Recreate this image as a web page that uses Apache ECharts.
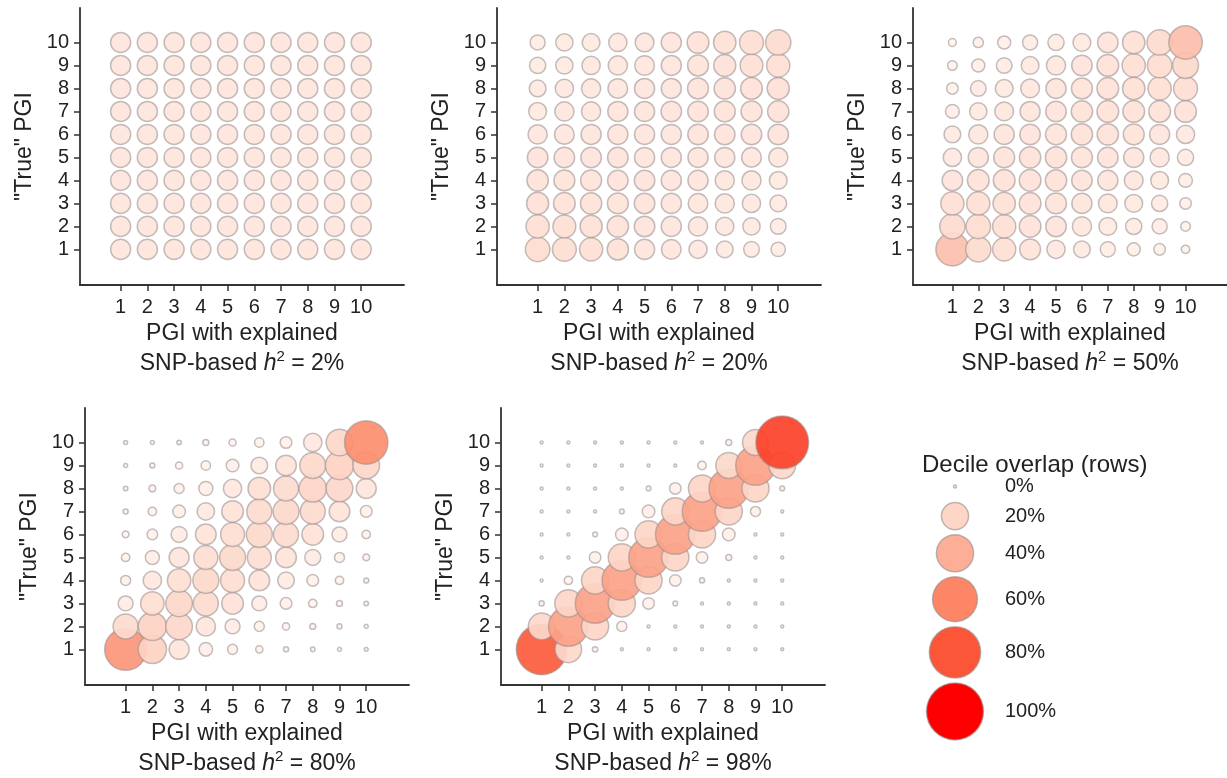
<!DOCTYPE html>
<html><head><meta charset="utf-8">
<script src="https://cdn.jsdelivr.net/npm/echarts@6.0.0/dist/echarts.min.js"></script>
<style>html,body{margin:0;padding:0;background:#fff}#c{width:1227px;height:778px}</style>
</head><body><div id="c"></div>
<script>
// ---------- data ----------
const deciles = [1, 2, 3, 4, 5, 6, 7, 8, 9, 10];
const tickLabels = ['1', '2', '3', '4', '5', '6', '7', '8', '9', '10'];
const panelH2 = ['2%', '20%', '50%', '80%', '98%'];

// overlap (% of row), rows = "True" PGI decile 1..10, columns = PGI decile 1..10
const overlapH2_02 = [
  [10, 10, 10, 10, 10, 10, 10, 10, 10, 10],
  [10, 10, 10, 10, 10, 10, 10, 10, 10, 10],
  [10, 10, 10, 10, 10, 10, 10, 10, 10, 10],
  [10, 10, 10, 10, 10, 10, 10, 10, 10, 10],
  [10, 10, 10, 10, 10, 10, 10, 10, 10, 10],
  [10, 10, 10, 10, 10, 10, 10, 10, 10, 10],
  [10, 10, 10, 10, 10, 10, 10, 10, 10, 10],
  [10, 10, 10, 10, 10, 10, 10, 10, 10, 10],
  [10, 10, 10, 10, 10, 10, 10, 10, 10, 10],
  [10, 10, 10, 10, 10, 10, 10, 10, 10, 10]
];
const overlapH2_20 = [
  [16, 15, 14, 11.5, 10, 9.5, 8, 6.5, 5.5, 4.5],
  [14, 13.5, 12.5, 11.5, 10.5, 10, 9, 8, 7, 5.5],
  [12.5, 12, 11.5, 11, 10.5, 10, 9.5, 9, 8, 6.5],
  [11.5, 11, 11, 10.5, 10.5, 10, 10, 9, 9, 7.5],
  [10.5, 10.5, 10.5, 10.5, 10, 10, 10, 10, 9.5, 9],
  [9, 9.5, 10, 10, 10, 10, 10.5, 10.5, 10.5, 10.5],
  [7.5, 9, 9, 10, 10, 10.5, 10.5, 11, 11, 11.5],
  [6.5, 8, 9, 9.5, 10, 10, 11, 11.5, 12, 12.5],
  [6, 7, 8, 9, 9.5, 10, 11, 12.5, 13.5, 14],
  [5, 7, 7.5, 8, 8.5, 10, 12, 13, 15, 17]
];
const overlapH2_50 = [
  [31, 17, 14, 11, 8, 6.5, 5, 3.5, 2.5, 1],
  [17, 16, 14, 12, 10.5, 9, 7.5, 6, 5, 1.5],
  [14, 14, 13, 12, 11, 10, 8.5, 7.5, 6, 2.5],
  [10.5, 12, 12, 12, 11.5, 10.5, 10, 8.5, 7.5, 4],
  [8, 10, 11, 11.5, 11.5, 11, 10.5, 10, 9, 6],
  [6.5, 9, 10, 10.5, 11, 11.5, 11.5, 11, 10, 8],
  [4, 7, 8.5, 10, 10.5, 11.5, 12, 12, 12, 12],
  [2.5, 5.5, 7.5, 8.5, 10, 11, 12, 13, 14, 15],
  [1.5, 3.5, 5.5, 7.5, 9, 10.5, 12, 14, 16, 18],
  [0.8, 1.8, 3.5, 5, 6, 7.5, 10.5, 13, 17, 32]
];
const overlapH2_80 = [
  [52, 22, 9.9, 3.8, 1.7, 0.6, 0.15, 0.08, 0.04, 0.03],
  [16.6, 22, 19.2, 9.2, 4.9, 1.7, 0.6, 0.3, 0.14, 0.04],
  [4.9, 14.2, 19.2, 16.6, 11.9, 4.9, 2.6, 1.0, 0.3, 0.08],
  [1.7, 8.1, 14.2, 18.1, 15.1, 10.7, 6.4, 2.6, 1.0, 0.14],
  [1.0, 4.2, 9.9, 15.1, 18.1, 15.1, 10.7, 5.8, 1.7, 0.5],
  [0.5, 2.0, 5.8, 10.7, 15.1, 18.1, 16.6, 11.9, 4.9, 1.0],
  [0.14, 1.0, 3.2, 7.1, 11.9, 16.6, 18.1, 16.6, 10.7, 2.6],
  [0.08, 0.5, 1.7, 4.2, 8.1, 13.2, 16.6, 20.3, 19.2, 9.9],
  [0.04, 0.14, 0.6, 1.4, 3.2, 6.4, 10.7, 18.1, 22, 19.2],
  [0.03, 0.04, 0.08, 0.3, 0.6, 1.4, 2.6, 8.1, 19.2, 56]
];
const overlapH2_98 = [
  [78, 19, 0.2, 0, 0, 0, 0, 0, 0, 0],
  [19, 46, 20, 1.7, 0, 0, 0, 0, 0, 0],
  [0.15, 20, 46, 20, 2.5, 0.1, 0, 0, 0, 0],
  [0, 1, 20, 46, 20, 2.5, 0.15, 0, 0, 0],
  [0, 0, 2.5, 20, 46, 20, 2.5, 0.3, 0, 0],
  [0, 0, 0.1, 3.2, 20, 46, 20, 3.2, 0, 0],
  [0, 0, 0, 0.1, 3.2, 20, 46, 20, 1.7, 0],
  [0, 0, 0, 0, 0.1, 2.5, 20, 46, 20, 0.1],
  [0, 0, 0, 0, 0, 0, 1, 18, 46, 19],
  [0, 0, 0, 0, 0, 0, 0, 0.3, 18, 85]
];

const legendValues = [0, 20, 40, 60, 80, 100];
const legendLabels = ['0%', '20%', '40%', '60%', '80%', '100%'];
const legendTitle = 'Decile overlap (rows)';

// ---------- build ----------
const FONT = "'Liberation Sans', Arial, Helvetica, sans-serif";
const matrices = [overlapH2_02, overlapH2_20, overlapH2_50, overlapH2_80, overlapH2_98];
const grids = [
  {left: 80, top: 8},
  {left: 497, top: 8},
  {left: 913, top: 8},
  {left: 85, top: 408},
  {left: 501, top: 408}
];
const GW = 324, GH = 277;
function radius(p) { return 1.5 + 27 * Math.sqrt(p / 100); }

const option = {
  animation: false,
  backgroundColor: '#ffffff',
  textStyle: {fontFamily: FONT},
  title: [{
    text: legendTitle, left: 917, top: 448,
    textStyle: {fontSize: 24, fontWeight: 'normal', color: '#222', fontFamily: FONT}
  }],
  grid: [],
  xAxis: [],
  yAxis: [],
  series: [],
  visualMap: {
    type: 'continuous', show: false, min: 0, max: 100, dimension: 2,
    seriesIndex: [0, 1, 2, 3, 4, 5],
    inRange: {color: ['#fff4ef', '#fdd6c8', '#fcae97', '#fc8665', '#fb5637', '#ff0000']}
  }
};

const axisLineStyle = {color: '#333', width: 1.8};
matrices.forEach((m, i) => {
  option.grid.push({left: grids[i].left, top: grids[i].top, width: GW, height: GH});
  option.xAxis.push({
    gridIndex: i, type: 'value', min: -0.52, max: 11.6,
    axisLine: {show: true, onZero: false, lineStyle: axisLineStyle},
    axisTick: {show: true, customValues: deciles, length: 6, lineStyle: {color: '#333', width: 1.5}},
    axisLabel: {customValues: deciles, formatter: v => tickLabels[v - 1], fontSize: 20, color: '#222', margin: 12, fontFamily: FONT},
    splitLine: {show: false},
    name: '{t|PGI with explained}\n{t|SNP-based }{i|h}{s|2}{t| = ' + panelH2[i] + '}',
    nameLocation: 'middle', nameGap: 34,
    nameTextStyle: {
      color: '#222', fontFamily: FONT,
      rich: {
        t: {fontSize: 23, lineHeight: 30, color: '#222', fontFamily: FONT},
        i: {fontSize: 23, lineHeight: 30, fontStyle: 'italic', color: '#222', fontFamily: FONT},
        s: {fontSize: 15, lineHeight: 22, verticalAlign: 'top', color: '#222', fontFamily: FONT}
      }
    }
  });
  option.yAxis.push({
    gridIndex: i, type: 'value', min: -0.55, max: 11.5,
    axisLine: {show: true, onZero: false, lineStyle: axisLineStyle},
    axisTick: {show: true, customValues: deciles, length: 6, lineStyle: {color: '#333', width: 1.5}},
    axisLabel: {customValues: deciles, formatter: v => tickLabels[v - 1], fontSize: 20, color: '#222', margin: 11, fontFamily: FONT},
    splitLine: {show: false},
    name: '"True" PGI', nameLocation: 'middle', nameGap: 44,
    nameTextStyle: {fontSize: 23, color: '#222', fontFamily: FONT}
  });
  const data = [];
  m.forEach((row, yi) => row.forEach((v, xi) => data.push([deciles[xi], deciles[yi], v])));
  option.series.push({
    type: 'scatter', xAxisIndex: i, yAxisIndex: i, silent: true, clip: false,
    symbolSize: d => 2 * radius(d[2]),
    itemStyle: {borderColor: 'rgba(150,140,140,0.6)', borderWidth: 1.5, opacity: 0.92},
    data: data
  });
});

// legend built as its own small grid
const LG = 5;
option.grid.push({left: 905, top: 473, width: 100, height: 250});
option.xAxis.push({gridIndex: LG, type: 'value', min: -50, max: 50, show: false});
option.yAxis.push({gridIndex: LG, type: 'value', min: 0, max: 250, inverse: true, show: false});
const legendCenters = [];
let acc = 0;
legendValues.forEach(v => {
  const h = Math.max(2 * radius(v), 22) + 5;
  legendCenters.push(acc + h / 2);
  acc += h;
});
option.series.push({
  type: 'scatter', xAxisIndex: LG, yAxisIndex: LG, silent: true,
  symbolSize: d => 2 * radius(d[2]),
  itemStyle: {borderColor: 'rgba(150,140,140,0.6)', borderWidth: 1.5, opacity: 1},
  data: legendValues.map((v, k) => [0, legendCenters[k], v])
});
option.series.push({
  type: 'scatter', xAxisIndex: LG, yAxisIndex: LG, silent: true,
  symbolSize: 0,
  itemStyle: {opacity: 1},
  label: {show: true, position: 'right', distance: 0, fontSize: 20, color: '#222', opacity: 1, fontFamily: FONT,
          formatter: p => legendLabels[p.dataIndex]},
  data: legendValues.map((v, k) => [50, legendCenters[k], v])
});

const chart = echarts.init(document.getElementById('c'), null, {renderer: 'canvas'});
chart.setOption(option);
</script>
</body></html>
